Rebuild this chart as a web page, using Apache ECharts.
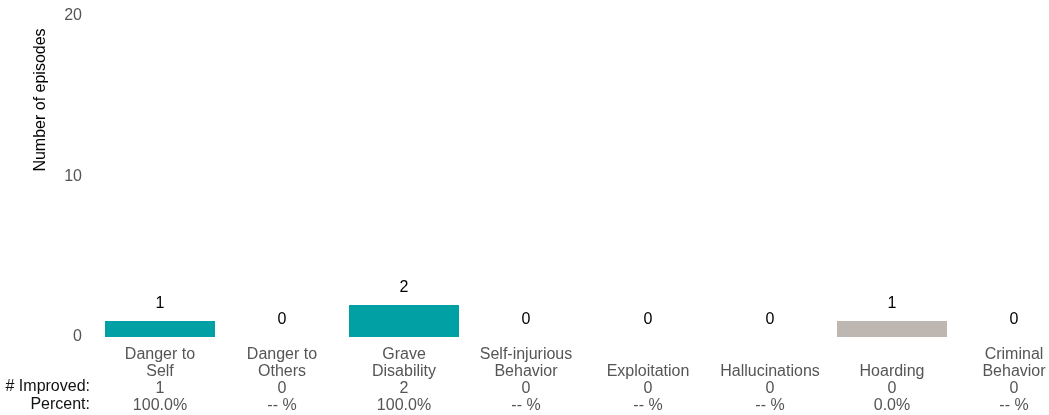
<!DOCTYPE html>
<html>
<head>
<meta charset="utf-8">
<script src="https://cdn.jsdelivr.net/npm/echarts@6/dist/echarts.min.js"></script>
<style>
html,body{margin:0;padding:0;background:#fff;overflow:hidden;width:1049px;height:415px;}
#chart{width:1075px;height:415px;}
</style>
</head>
<body>
<div id="chart"></div>
<script>
var categories = ["Danger to\nSelf", "Danger to\nOthers", "Grave\nDisability", "Self-injurious\nBehavior", "Exploitation", "Hallucinations", "Hoarding", "Criminal\nBehavior"];
var episodes = [1, 0, 2, 0, 0, 0, 1, 0];
var improved = [1, 0, 2, 0, 0, 0, 0, 0];
var percentLabels = ["100.0%", "-- %", "100.0%", "-- %", "-- %", "-- %", "0.0%", "-- %"];
var yTicks = [0, 10, 20];

var barColors = ["#00A0A4", "#00A0A4", "#00A0A4", "#00A0A4", "#00A0A4", "#00A0A4", "#BEB6B0", "#00A0A4"];

var chart = echarts.init(document.getElementById('chart'), null, {renderer: 'canvas'});
var font = "Liberation Sans, Arial, sans-serif";

var option = {
  animation: false,
  grid: {left: 99, top: 16, right: 0, bottom: 78, containLabel: false},
  xAxis: {
    type: 'category',
    data: categories,
    axisLine: {show: false},
    axisTick: {show: false},
    axisLabel: {
      interval: 0,
      margin: 9,
      color: '#555',
      fontFamily: font,
      fontSize: 16,
      lineHeight: 17,
      formatter: function (v, i) {
        var lines = v.split('\n');
        var pad = lines.length < 2 ? ' \n' : '';
        return pad + v + '\n' + improved[i] + '\n' + percentLabels[i];
      }
    }
  },
  yAxis: {
    type: 'value',
    min: yTicks[0],
    max: yTicks[yTicks.length - 1],
    interval: 10,
    axisLine: {show: false},
    axisTick: {show: false},
    splitLine: {show: false},
    axisLabel: {color: '#555', fontFamily: font, fontSize: 16, margin: 17, padding: [4, 0, 0, 0]}
  },
  series: [{
    type: 'bar',
    barWidth: 110,
    data: episodes.map(function (v, i) {
      return {value: v, itemStyle: {color: barColors[i]}};
    }),
    label: {
      show: true,
      position: 'top',
      distance: 9,
      color: '#000',
      fontFamily: font,
      fontSize: 16
    }
  }],
  graphic: [
    {type: 'text', x: 41, y: 100, rotation: Math.PI / 2,
      style: {text: 'Number of episodes', fill: '#000', font: '16px ' + font, align: 'center', verticalAlign: 'middle'}},
    {type: 'text', x: 90, y: 387,
      style: {text: '# Improved:', fill: '#111', font: '16px ' + font, align: 'right', verticalAlign: 'middle'}},
    {type: 'text', x: 90, y: 405,
      style: {text: 'Percent:', fill: '#111', font: '16px ' + font, align: 'right', verticalAlign: 'middle'}}
  ]
};
chart.setOption(option);
</script>
</body>
</html>
